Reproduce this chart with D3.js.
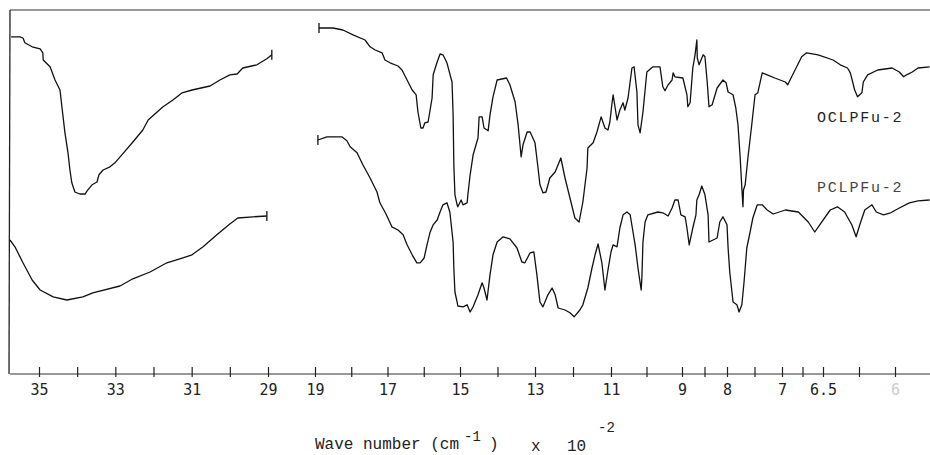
<!DOCTYPE html>
<html>
<head>
<meta charset="utf-8">
<script src="https://cdn.jsdelivr.net/npm/d3@7"></script>
<style>
  body { margin: 0; background: #fff; }
  .tick text { font-family: "DejaVu Sans Mono", monospace; font-size: 15px; fill: #222; }
  .lab { font-family: "Liberation Mono", monospace; fill: #222; }
</style>
</head>
<body>
<svg id="ir" width="930" height="455"></svg>
<script>
// wave number (cm-1 x 10^-2), transmittance (arbitrary %)
const ocLeft = [
  [35.73,84.3],[35.50,84.3],[35.42,84.0],[35.37,82.8],[35.18,81.8],[34.97,81.3],[34.90,80.3],[34.89,78.5],
  [34.71,76.8],[34.58,73.5],[34.45,71.0],[34.40,66.8],[34.32,60.3],[34.24,55.3],[34.19,51.0],[34.14,47.8],
  [34.06,45.5],[33.93,45.0],[33.79,45.0],[33.74,45.8],[33.61,47.3],[33.48,48.0],[33.43,49.8],[33.32,51.0],
  [33.14,51.8],[33.01,52.8],[32.83,54.8],[32.54,58.0],[32.28,61.0],[32.14,63.5],[31.75,66.8],[31.49,68.5],
  [31.25,70.3],[30.99,71.0],[30.52,72.0],[30.26,73.5],[30.00,74.8],[29.81,75.0],[29.66,76.5],[29.29,77.3],
  [29.03,78.8],[28.90,79.8]
]
const pcLeft = [
  [35.76,33.5],[35.63,31.8],[35.42,27.8],[35.18,23.5],[34.97,21.0],[34.63,19.3],[34.27,18.5],[33.85,19.3],
  [33.59,20.3],[32.88,22.0],[32.54,23.8],[32.09,25.5],[31.65,27.8],[31.31,28.8],[30.99,29.8],[30.70,31.8],
  [30.34,34.8],[30.00,37.5],[29.79,39.0],[29.39,39.3],[29.03,39.5]
]
const ocRight = [
  [18.89,86.5],[18.50,86.5],[18.23,86.0],[17.95,84.8],[17.62,83.5],[17.48,81.8],[17.34,81.0],[17.15,80.3],
  [17.07,78.5],[16.93,77.8],[16.71,77.0],[16.60,76.0],[16.46,73.5],[16.32,71.0],[16.21,69.8],[16.16,65.5],
  [16.08,61.5],[16.02,61.5],[15.97,62.8],[15.88,63.0],[15.77,69.0],[15.74,74.8],[15.63,78.0],[15.55,80.0],
  [15.47,79.8],[15.36,77.8],[15.22,73.0],[15.19,64.8],[15.17,52.3],[15.14,44.8],[15.08,42.3],[15.06,41.8],
  [14.97,43.5],[14.92,42.3],[14.81,42.8],[14.79,44.8],[14.73,49.8],[14.65,54.8],[14.52,59.0],[14.49,64.3],
  [14.41,64.3],[14.36,61.5],[14.25,60.8],[14.20,64.8],[14.12,69.3],[14.01,73.5],[13.76,74.0],[13.67,72.3],
  [13.53,68.0],[13.45,62.3],[13.37,54.3],[13.32,57.3],[13.21,60.5],[13.13,60.5],[13.00,57.8],[12.92,51.5],
  [12.87,47.3],[12.79,45.3],[12.71,45.5],[12.61,49.0],[12.47,50.5],[12.32,54.0],[12.21,49.0],[12.08,44.0],
  [11.95,39.0],[11.84,38.0],[11.74,43.0],[11.63,51.5],[11.61,56.5],[11.47,57.8],[11.37,60.5],[11.26,64.3],
  [11.16,61.5],[11.08,61.0],[11.03,63.0],[10.97,67.8],[10.94,69.8],[10.83,63.5],[10.75,66.0],[10.66,67.8],
  [10.61,66.0],[10.52,69.0],[10.41,76.5],[10.35,76.8],[10.27,70.5],[10.24,62.3],[10.18,60.3],[10.10,65.5],
  [9.99,75.5],[9.82,76.8],[9.62,76.8],[9.54,71.8],[9.48,70.8],[9.39,72.3],[9.28,73.5],[9.25,75.3],
  [9.20,74.3],[8.98,74.0],[8.89,69.8],[8.87,66.8],[8.82,67.8],[8.76,76.5],[8.71,79.8],[8.67,83.5],
  [8.66,79.0],[8.62,77.3],[8.53,79.8],[8.49,79.3],[8.44,73.0],[8.40,66.8],[8.33,67.3],[8.22,71.5],
  [8.09,73.5],[8.02,72.8],[7.98,70.5],[7.89,69.8],[7.84,66.5],[7.80,62.3],[7.76,54.0],[7.73,46.5],
  [7.71,41.8],[7.70,46.0],[7.67,47.3],[7.62,54.0],[7.55,62.3],[7.49,69.8],[7.44,70.3],[7.36,75.3],
  [7.27,74.8],[7.13,74.0],[6.96,73.0],[6.93,72.3],[6.87,74.8],[6.76,79.3],[6.70,80.3],[6.56,79.8],
  [6.43,78.5],[6.38,77.3],[6.33,76.5],[6.31,75.3],[6.28,71.0],[6.26,69.3],[6.23,70.3],[6.22,73.0],
  [6.19,74.8],[6.12,76.0],[6.02,76.5],[5.97,75.5],[5.94,74.3],[5.92,74.8],[5.88,75.5],[5.84,76.5],
  [5.76,76.8]
]
const pcRight = [
  [18.92,58.5],[18.67,59.3],[18.26,59.3],[18.12,58.3],[18.03,56.8],[17.84,55.3],[17.68,52.3],[17.48,49.0],
  [17.29,45.5],[17.21,42.8],[17.07,40.5],[16.99,39.0],[16.88,36.8],[16.71,36.0],[16.57,34.8],[16.46,32.3],
  [16.32,29.8],[16.19,27.8],[16.10,27.8],[15.99,29.0],[15.91,32.3],[15.83,35.3],[15.74,37.3],[15.63,38.5],
  [15.55,40.5],[15.47,42.3],[15.36,42.8],[15.28,40.5],[15.19,33.0],[15.17,26.5],[15.14,20.5],[15.08,18.0],
  [15.06,17.0],[14.92,16.8],[14.81,17.3],[14.73,15.5],[14.65,16.8],[14.52,19.8],[14.41,22.8],[14.36,21.5],
  [14.28,18.5],[14.20,24.8],[14.12,29.8],[14.01,33.0],[13.85,34.3],[13.67,33.8],[13.48,31.5],[13.35,28.0],
  [13.27,27.8],[13.13,30.3],[13.03,30.5],[12.95,24.8],[12.87,18.0],[12.79,16.8],[12.66,19.8],[12.55,21.5],
  [12.47,19.8],[12.39,16.5],[12.21,16.0],[12.08,15.3],[11.97,14.3],[11.82,16.0],[11.74,17.3],[11.61,21.5],
  [11.50,26.5],[11.42,29.8],[11.34,32.5],[11.24,27.8],[11.16,21.0],[11.08,26.0],[11.00,30.5],[10.94,32.3],
  [10.83,31.8],[10.75,36.5],[10.66,39.8],[10.55,40.5],[10.46,39.8],[10.38,35.5],[10.32,32.3],[10.24,26.5],
  [10.15,21.0],[10.13,24.0],[10.10,33.0],[10.04,38.0],[9.96,39.8],[9.68,40.5],[9.54,40.3],[9.39,39.5],
  [9.28,41.5],[9.20,43.5],[9.11,43.5],[9.03,39.8],[8.93,39.3],[8.89,36.5],[8.84,32.3],[8.76,36.5],
  [8.69,39.8],[8.67,43.5],[8.62,44.8],[8.56,47.0],[8.49,44.8],[8.42,39.8],[8.40,33.0],[8.31,33.5],
  [8.22,34.0],[8.16,38.0],[8.09,39.3],[8.00,37.3],[7.98,31.5],[7.95,25.5],[7.89,18.0],[7.82,17.3],
  [7.78,15.5],[7.73,17.3],[7.69,23.0],[7.64,31.5],[7.58,35.5],[7.53,39.0],[7.45,42.3],[7.36,42.3],
  [7.27,41.0],[7.16,40.0],[6.96,41.0],[6.80,40.5],[6.68,38.0],[6.60,35.5],[6.54,37.3],[6.45,41.0],
  [6.40,41.8],[6.35,40.5],[6.30,37.3],[6.27,34.3],[6.24,37.8],[6.21,41.0],[6.16,42.3],[6.13,40.5],
  [6.08,39.8],[6.03,40.3],[5.97,41.5],[5.90,42.8],[5.84,43.3],[5.76,43.5]
]

const leftTicks = [35, 34, 33, 32, 31, 30, 29]
const leftLabels = [35, 33, 31, 29]
const rightBreaks = [19, 15, 13, 11, 9, 8, 7, 6.5, 6]
const rightTicks = [19, 18, 17, 16, 15, 14, 13, 12, 11, 10, 9, 8.5, 8, 7.5, 7, 6.75, 6.5, 6.25, 6]
const rightLabels = [19, 17, 15, 13, 11, 9, 8, 7, 6.5, 6]
const seriesNames = ['OCLPFu-2', 'PCLPFu-2']

const svg = d3.select('#ir')
const frameTop = 10, frameBottom = 374, frameLeft = 10, frameRight = 930

const xLeft = d3.scaleLinear().domain([35, 29]).range([39, 268])
const xRight = d3.scaleLinear()
  .domain(rightBreaks)
  .range([315, 460, 535, 611, 682, 727, 782, 823, 895])
const y = d3.scaleLinear().domain([0, 91]).range([frameBottom, frameTop])

// frame
svg.append('line').attr('x1', frameLeft).attr('x2', frameRight).attr('y1', frameTop).attr('y2', frameTop)
  .attr('stroke', '#333').attr('stroke-width', 1.2)
svg.append('line').attr('x1', frameLeft).attr('x2', frameLeft - 1).attr('y1', frameTop).attr('y2', frameBottom)
  .attr('stroke', '#222').attr('stroke-width', 1.3)
svg.append('line').attr('x1', frameLeft).attr('x2', frameRight).attr('y1', frameBottom).attr('y2', frameBottom)
  .attr('stroke', '#333').attr('stroke-width', 1.2)

function drawAxis(scale, ticks, labels) {
  const g = svg.append('g')
    .attr('transform', `translate(0, ${frameBottom})`)
    .call(d3.axisBottom(scale)
      .tickValues(ticks)
      .tickFormat(d => labels.includes(d) ? d : ''))
  g.select('.domain').remove()
  g.selectAll('.tick line').attr('y1', -7).attr('y2', 3).attr('stroke', '#222').attr('stroke-width', 1.2)
  g.selectAll('.tick text').attr('y', 21).attr('dy', 0)
  return g
}
drawAxis(xLeft, leftTicks, leftLabels)
const ra = drawAxis(xRight, rightTicks, rightLabels)
ra.selectAll('.tick text').filter(d => d === 6).style('fill', '#ccc')

function trace(data, scale) {
  const line = d3.line().x(d => scale(d[0])).y(d => y(d[1]))
  svg.append('path')
    .attr('d', line(data))
    .attr('fill', 'none')
    .attr('stroke', '#111')
    .attr('stroke-width', 1.3)
    .attr('stroke-linejoin', 'round')
}
trace(ocLeft, xLeft)
trace(pcLeft, xLeft)
trace(ocRight, xRight)
trace(pcRight, xRight)

// pen marks at the break ends
const marks = [
  [ocLeft[ocLeft.length - 1], xLeft], [pcLeft[pcLeft.length - 1], xLeft],
  [ocRight[0], xRight], [pcRight[0], xRight]
]
marks.forEach(([d, s]) => {
  svg.append('line')
    .attr('x1', s(d[0])).attr('x2', s(d[0]))
    .attr('y1', y(d[1]) - 5).attr('y2', y(d[1]) + 5)
    .attr('stroke', '#111').attr('stroke-width', 1.3)
})

svg.append('text').attr('class', 'lab')
  .attr('x', 817).attr('y', 122)
  .style('font-size', '15px').style('letter-spacing', '1.8px')
  .text(seriesNames[0])
svg.append('text').attr('class', 'lab')
  .attr('x', 817).attr('y', 192)
  .style('font-size', '15px').style('letter-spacing', '1.8px')
  .style('fill', '#444')
  .text(seriesNames[1])

const title = svg.append('text').attr('class', 'lab').style('font-size', '16px')
title.append('tspan').attr('x', 315).attr('y', 449).text('Wave number (cm')
title.append('tspan').attr('x', 464).attr('y', 441).style('font-size', '14px').text('-1')
title.append('tspan').attr('x', 489).attr('y', 449).text(')')
title.append('tspan').attr('x', 531).attr('y', 451).text('x')
title.append('tspan').attr('x', 567).attr('y', 451).text('10')
title.append('tspan').attr('x', 598).attr('y', 432).style('font-size', '14px').text('-2')
</script>
</body>
</html>
